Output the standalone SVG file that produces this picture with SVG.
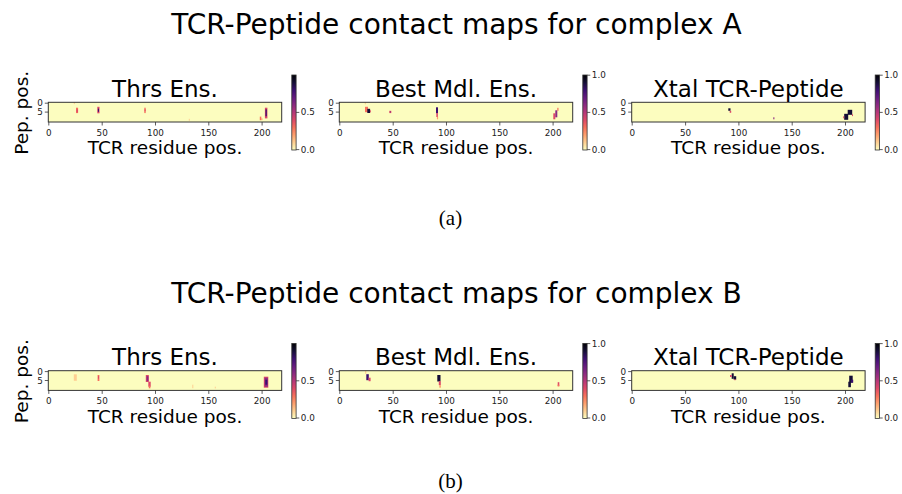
<svg xmlns="http://www.w3.org/2000/svg" width="902" height="494" viewBox="0 0 902 494">
<style>
text{font-family:"DejaVu Sans","Liberation Sans",sans-serif;fill:#000}
.main{font-size:28px;text-anchor:middle}
.ttl{font-size:23px;text-anchor:middle}
.lab{font-size:18.5px;text-anchor:middle}
.tk{font-size:8.8px;fill:#222}
.tx{text-anchor:middle}
.ty{text-anchor:end}
.sub{font-family:"Liberation Serif","Times New Roman",serif;font-size:21px;text-anchor:middle}
.bg{fill:#fcfdbf}
.frame{fill:none;stroke:#333;stroke-width:1}
.tick{stroke:#333;stroke-width:0.8}
.cb{fill:url(#magma);stroke:#333;stroke-width:0.8}
.D{fill:#140e36}.P{fill:#3b0f70}.M{fill:#8c2981}.R{fill:#de4968}.O{fill:#f7705c}.L{fill:#fe9f6d}.F{fill:#fecf92}
</style>
<defs>
<linearGradient id="magma" x1="0" y1="0" x2="0" y2="1">
<stop offset="0" stop-color="#000004"/>
<stop offset="0.1" stop-color="#140e36"/>
<stop offset="0.2" stop-color="#3b0f70"/>
<stop offset="0.3" stop-color="#641a80"/>
<stop offset="0.4" stop-color="#8c2981"/>
<stop offset="0.5" stop-color="#b73779"/>
<stop offset="0.6" stop-color="#de4968"/>
<stop offset="0.7" stop-color="#f7705c"/>
<stop offset="0.8" stop-color="#fe9f6d"/>
<stop offset="0.9" stop-color="#fecf92"/>
<stop offset="1" stop-color="#fcfdbf"/>
</linearGradient>
<g id="axes">
<path class="tick" d="M0.5,19.7v3.5M53.9,19.7v3.5M107.2,19.7v3.5M160.5,19.7v3.5M213.8,19.7v3.5M-3.5,0.9h3.5M-3.5,9.8h3.5"/>
<text class="tk tx" x="0.5" y="33.4">0</text>
<text class="tk tx" x="53.9" y="33.4">50</text>
<text class="tk tx" x="107.2" y="33.4">100</text>
<text class="tk tx" x="160.5" y="33.4">150</text>
<text class="tk tx" x="213.8" y="33.4">200</text>
<text class="tk ty" x="-5.5" y="4">0</text>
<text class="tk ty" x="-5.5" y="12.9">5</text>
<text class="lab" x="116.7" y="52.2">TCR residue pos.</text>
<rect class="cb" x="243.5" y="-27.3" width="4.3" height="75"/>
<path class="tick" d="M247.8,10.1h3.2M247.8,47.3h3.2"/>
<text class="tk" x="252.5" y="13.2">0.5</text>
<text class="tk" x="252.5" y="50.4">0.0</text>
</g>
<g id="cbtop">
<path class="tick" d="M247.8,-27.1h3.2"/>
<text class="tk" x="252.5" y="-24">1.0</text>
</g>
</defs>

<text class="main" x="456.5" y="34.3">TCR-Peptide contact maps for complex A</text>
<text class="main" x="456.5" y="302.7">TCR-Peptide contact maps for complex B</text>
<text class="sub" x="450.5" y="224.5">(a)</text>
<text class="sub" x="450.5" y="488">(b)</text>

<g id="a1" transform="translate(48.3,102.3)">
<rect class="bg" x="0" y="0" width="233.4" height="19.7"/>
<rect class="F" x="25.5" y="0" width="1.1" height="1.8"/>
<rect class="O" x="27.7" y="5.4" width="2.1" height="5.4"/><rect class="R" x="28.2" y="7" width="1.4" height="3"/>
<rect class="R" x="49" y="4.5" width="2.2" height="6.5"/><rect class="P" x="49.6" y="6.3" width="1.1" height="3.2"/>
<rect class="O" x="96" y="5.4" width="1.4" height="5.4"/><rect class="R" x="96.3" y="7" width="1" height="2"/>
<rect class="F" x="140.5" y="16.5" width="1" height="2"/>
<rect class="O" x="211.5" y="14.3" width="1.5" height="3.6"/><rect class="L" x="213" y="16" width="1.1" height="1.8"/>
<rect class="R" x="216.6" y="5.4" width="2.5" height="10.7"/><rect class="P" x="217.2" y="7" width="1.3" height="7"/>
<rect class="frame" x="0" y="0" width="233.4" height="19.7"/>
<use href="#axes"/>
<text class="ttl" x="116.7" y="-5.6">Thrs Ens.</text>
<text class="lab" transform="translate(-20,10.5) rotate(-90)">Pep. pos.</text>
</g>

<g id="a2" transform="translate(339.3,102.3)">
<rect class="bg" x="0" y="0" width="233.4" height="19.7"/>
<rect class="F" x="25.5" y="0" width="1.1" height="2"/>
<rect class="O" x="25.7" y="4.5" width="3" height="5.4"/><rect class="D" x="28" y="6.5" width="2.8" height="4.2"/><rect class="R" x="30.8" y="8" width="0.8" height="2"/>
<rect class="R" x="50" y="8.5" width="2" height="2.3"/><rect class="M" x="50.6" y="9" width="0.9" height="1.2"/>
<rect class="P" x="96.7" y="5" width="2" height="6"/><rect class="R" x="97" y="10.7" width="1.6" height="4"/><rect class="L" x="97.6" y="14.5" width="1.2" height="2.5"/>
<rect class="R" x="214" y="11" width="2" height="6"/><rect class="M" x="216" y="8" width="2" height="7"/><rect class="O" x="218" y="5.5" width="1.2" height="3"/>
<rect class="frame" x="0" y="0" width="233.4" height="19.7"/>
<use href="#axes"/><use href="#cbtop"/>
<text class="ttl" x="116.7" y="-5.6">Best Mdl. Ens.</text>
</g>

<g id="a3" transform="translate(631.7,102.3)">
<rect class="bg" x="0" y="0" width="233.4" height="19.7"/>
<rect class="D" x="96.6" y="6" width="2.2" height="2.5"/><rect class="R" x="98" y="8.5" width="1.5" height="2"/>
<rect class="M" x="141.6" y="15" width="1.1" height="2"/>
<rect class="D" x="216" y="7.5" width="4.5" height="5"/><rect class="D" x="212.5" y="11.5" width="4" height="6"/><rect class="R" x="211.5" y="14" width="1" height="2"/><rect class="R" x="220.3" y="12" width="1" height="1.8"/>
<rect class="frame" x="0" y="0" width="233.4" height="19.7"/>
<use href="#axes"/><use href="#cbtop"/>
<text class="ttl" x="116.7" y="-5.6">Xtal TCR-Peptide</text>
</g>

<g id="b1" transform="translate(48.3,370.7)">
<rect class="bg" x="0" y="0" width="233.4" height="19.7"/>
<rect class="F" x="25.5" y="3.6" width="3" height="6.5"/>
<rect class="O" x="49.3" y="4.3" width="1.8" height="6"/><rect class="R" x="49.7" y="5.5" width="1" height="2.5"/>
<rect class="R" x="97.5" y="4.3" width="3" height="7"/><rect class="M" x="98.3" y="5.5" width="1.8" height="5"/><rect class="R" x="100" y="11" width="2.4" height="5"/><rect class="O" x="100.5" y="15" width="1.6" height="2.6"/>
<rect class="F" x="144" y="14" width="1" height="3.5"/>
<rect class="F" x="166.5" y="16" width="1" height="1.7"/>
<rect class="R" x="215.5" y="6" width="4.5" height="11"/><rect class="M" x="216.3" y="7" width="3.2" height="9"/><rect class="P" x="217" y="9" width="2" height="5"/>
<rect class="frame" x="0" y="0" width="233.4" height="19.7"/>
<use href="#axes"/>
<text class="ttl" x="116.7" y="-5.6">Thrs Ens.</text>
<text class="lab" transform="translate(-20,10.5) rotate(-90)">Pep. pos.</text>
</g>

<g id="b2" transform="translate(339.3,370.7)">
<rect class="bg" x="0" y="0" width="233.4" height="19.7"/>
<rect class="F" x="25.7" y="0" width="1.3" height="3"/>
<rect class="P" x="27" y="3.5" width="2.5" height="6"/><rect class="R" x="29.3" y="7" width="2" height="3.5"/>
<rect class="D" x="98" y="4.3" width="3.2" height="6.5"/><rect class="R" x="99.5" y="10.5" width="2" height="4"/><rect class="L" x="100" y="14.5" width="1.6" height="2.5"/>
<rect class="R" x="218.4" y="11.5" width="1.6" height="4"/><rect class="O" x="218.4" y="14" width="1.6" height="1.6"/>
<rect class="frame" x="0" y="0" width="233.4" height="19.7"/>
<use href="#axes"/><use href="#cbtop"/>
<text class="ttl" x="116.7" y="-5.6">Best Mdl. Ens.</text>
</g>

<g id="b3" transform="translate(631.7,370.7)">
<rect class="bg" x="0" y="0" width="233.4" height="19.7"/>
<rect class="D" x="100" y="2.6" width="2" height="5.5"/><rect class="R" x="98.3" y="4.3" width="1.7" height="2"/><rect class="D" x="102" y="5.5" width="2.5" height="3.5"/><rect class="R" x="102.5" y="8.5" width="1.5" height="1"/>
<rect class="D" x="217.5" y="5" width="3.5" height="7"/><rect class="D" x="216.6" y="11" width="2.6" height="5.5"/><rect class="P" x="219.5" y="9" width="2" height="3"/>
<rect class="frame" x="0" y="0" width="233.4" height="19.7"/>
<use href="#axes"/><use href="#cbtop"/>
<text class="ttl" x="116.7" y="-5.6">Xtal TCR-Peptide</text>
</g>
</svg>
